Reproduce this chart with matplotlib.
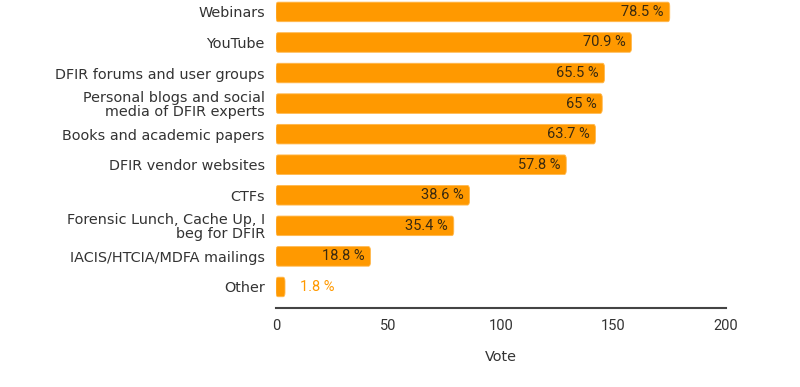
import matplotlib
matplotlib.use("Agg")
import matplotlib.pyplot as plt
from matplotlib.patches import FancyBboxPatch

# data
categories = ["Webinars", "YouTube", "DFIR forums and user groups",
              "Personal blogs and social\nmedia of DFIR experts",
              "Books and academic papers", "DFIR vendor websites", "CTFs",
              "Forensic Lunch, Cache Up, I\nbeg for DFIR",
              "IACIS/HTCIA/MDFA mailings", "Other"]
votes = [175, 158, 146, 145, 142, 129, 86, 79, 42, 4]
percent_labels = ["78.5 %", "70.9 %", "65.5 %", "65 %", "63.7 %",
                  "57.8 %", "38.6 %", "35.4 %", "18.8 %", "1.8 %"]
x_ticks = [0, 50, 100, 150, 200]

bar_color = "#ff9900"
text_color = "#333333"

fig = plt.figure(figsize=(8, 3.87), dpi=100)
ax = fig.add_axes([0.345, 0.204, 0.5625, 0.796])

bar_h = 0.64
for i, v in enumerate(votes):
    # rounded bars, like the original
    ax.add_patch(FancyBboxPatch((0, i - bar_h / 2), v, bar_h,
                                boxstyle="round,pad=0,rounding_size=0.9",
                                mutation_aspect=0.15,
                                facecolor=bar_color, edgecolor="#ffb84d",
                                linewidth=0.6))
    if v > 20:
        ax.annotate(percent_labels[i], (v, i), xytext=(-6, 0),
                    textcoords="offset pixels", ha="right", va="center",
                    fontsize=10.5, color="#3a2a10", family="Roboto")
    else:
        ax.annotate(percent_labels[i], (v, i), xytext=(15, 0),
                    textcoords="offset pixels", ha="left", va="center",
                    fontsize=10.5, color=bar_color, family="Roboto")

ax.set_xlim(0, 200)
ax.set_ylim(9.69, -0.39)
ax.set_yticks(range(len(categories)))
ax.set_yticklabels(categories, fontsize=10.4, color=text_color,
                   linespacing=1.0, family="DejaVu Sans")
ax.set_xticks(x_ticks)
ax.set_xticklabels([str(t) for t in x_ticks], fontsize=10.5, color=text_color,
                   family="Roboto")
ax.tick_params(axis="both", length=0)
ax.tick_params(axis="y", pad=8)
ax.tick_params(axis="x", pad=8)

for s in ["top", "right", "left"]:
    ax.spines[s].set_visible(False)
ax.spines["bottom"].set_color("#444444")
ax.spines["bottom"].set_linewidth(1.5)

ax.set_xlabel("Vote", fontsize=10.4, color=text_color, labelpad=12)

fig.savefig("out.png", dpi=100)
